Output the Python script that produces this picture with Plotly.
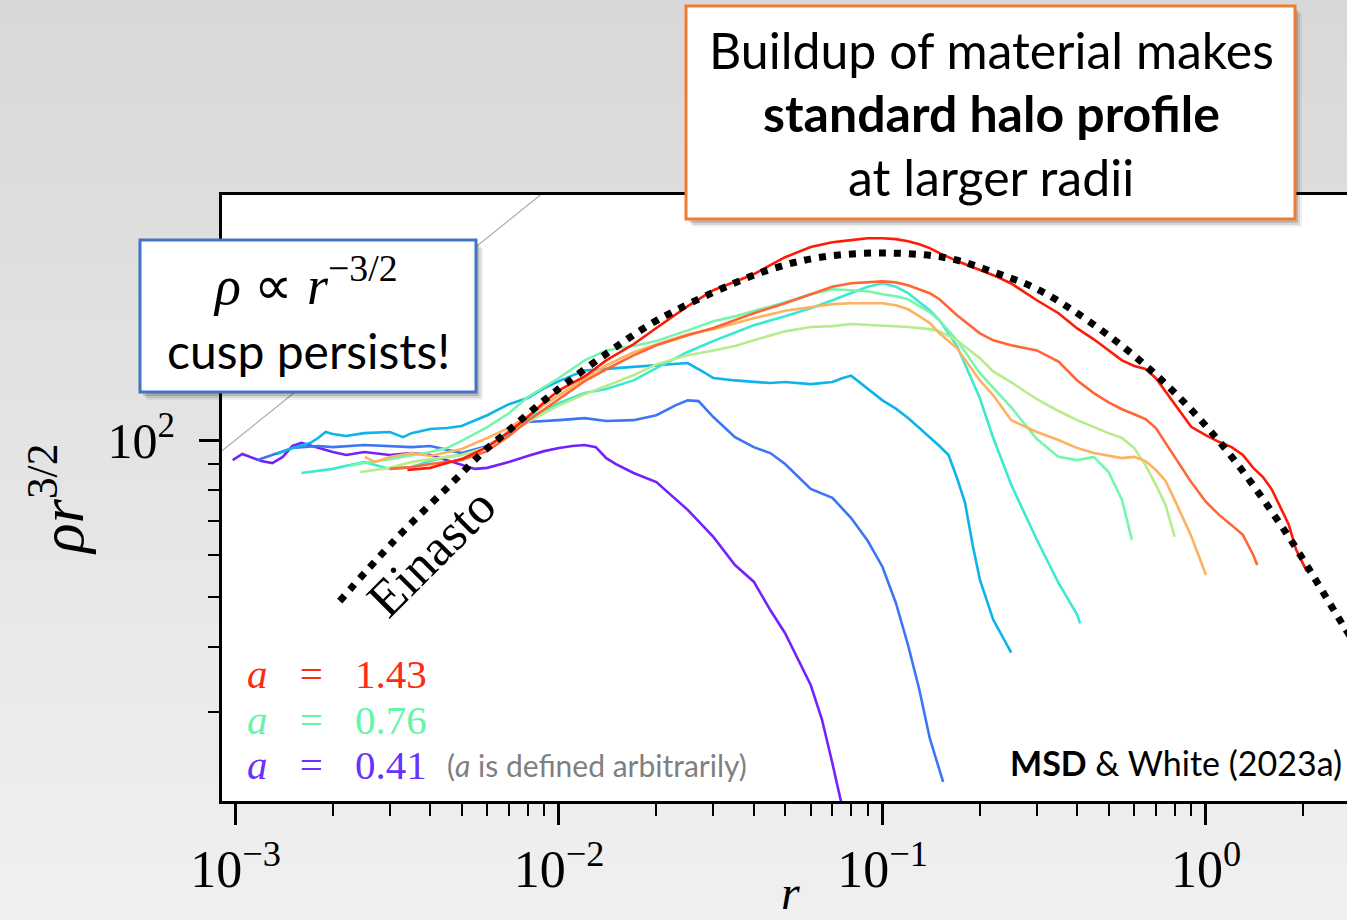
import plotly.graph_objects as go

# ---------------- data ----------------
# r and rho*r^(3/2) for nine snapshots a = 0.41 ... 1.43
r_a041 = [0.00098,0.00105,0.0012,0.0013,0.0014,0.0015,0.0016,0.0018,0.002,0.0022,0.0025,0.003,0.0035,0.004,0.0045,0.005,0.0055,0.006,0.007,0.008,0.009,0.01,0.011,0.012,0.013,0.014,0.015,0.017,0.02,0.025,0.03,0.035,0.04,0.045,0.05,0.06,0.065,0.07,0.074,0.08]
v_a041 = [91.5,94.0,91.1,90.3,92.8,97.4,98.7,96.5,94.8,93.6,94.8,93.6,94.4,93.6,91.5,89.9,88.0,88.4,90.7,93.2,95.2,96.5,97.4,97.8,96.9,92.3,89.9,86.4,83.0,73.4,65.1,57.5,53.4,47.1,42.5,33.8,29.0,23.9,20.5,17.0]

r_a048 = [0.00117,0.0013,0.0015,0.0018,0.002,0.0025,0.003,0.0035,0.004,0.0045,0.005,0.006,0.007,0.008,0.01,0.012,0.014,0.017,0.02,0.023,0.025,0.027,0.03,0.035,0.04,0.045,0.05,0.06,0.07,0.08,0.09,0.1,0.11,0.12,0.13,0.14,0.15,0.154]
v_a048 = [91.5,93.6,96.5,97.4,96.9,97.8,97.4,96.9,97.4,95.7,94.4,97.4,103.1,108.3,109.2,110.2,108.8,109.2,111.6,116.7,119.2,118.8,110.7,101.3,96.9,94.4,89.9,80.5,77.4,70.8,64.0,57.0,48.6,40.3,33.1,26.7,23.2,22.0]

r_a056 = [0.00134,0.0015,0.0017,0.0018,0.0019,0.002,0.0022,0.0025,0.003,0.0033,0.0035,0.004,0.0045,0.005,0.006,0.007,0.008,0.009,0.01,0.012,0.015,0.02,0.025,0.028,0.03,0.035,0.04,0.045,0.05,0.06,0.07,0.075,0.08,0.09,0.1,0.11,0.12,0.13,0.14,0.15,0.16,0.17,0.18,0.19,0.2,0.22,0.25]
v_a056 = [94.0,96.5,98.7,100.9,103.6,102.7,101.8,103.1,103.6,101.3,103.1,105.0,105.5,106.4,111.6,117.2,120.4,125.8,129.8,136.1,137.5,139.2,140.6,135.1,131.6,130.2,129.3,128.7,129.3,128.1,129.3,131.5,133.0,125.8,119.2,114.9,110.2,105.5,101.3,97.4,93.6,84.5,75.7,62.8,53.9,45.1,39.0]

r_a065 = [0.0016,0.0018,0.002,0.0022,0.0025,0.003,0.0035,0.004,0.0045,0.005,0.006,0.007,0.008,0.01,0.012,0.014,0.017,0.02,0.025,0.03,0.035,0.04,0.05,0.06,0.07,0.08,0.09,0.1,0.11,0.12,0.14,0.15,0.17,0.2,0.22,0.25,0.3,0.35,0.4,0.408]
v_a065 = [86.4,87.2,88.0,89.2,90.7,88.0,88.7,91.1,92.8,93.6,96.9,104.1,110.2,117.8,123.1,125.3,130.2,137.5,147.7,155.0,161.0,166.2,173.0,179.3,185.7,191.6,197.1,200.2,197.1,191.6,177.6,169.9,151.6,120.3,100.9,82.0,64.3,53.1,46.1,44.4]

r_a076 = [0.00226,0.0025,0.003,0.0035,0.004,0.0045,0.005,0.006,0.007,0.008,0.01,0.012,0.014,0.017,0.02,0.025,0.03,0.035,0.04,0.05,0.06,0.07,0.08,0.09,0.1,0.11,0.12,0.14,0.15,0.17,0.2,0.22,0.25,0.3,0.35,0.4,0.45,0.5,0.55,0.59]
v_a076 = [89.2,90.3,91.9,93.6,94.8,96.5,99.6,105.9,112.6,120.9,131.6,142.3,148.7,151.6,155.0,162.5,169.2,172.9,176.9,184.1,190.7,194.9,194.1,193.2,190.7,189.0,186.5,176.1,169.9,155.5,134.4,125.8,115.6,100.4,92.8,91.5,92.8,86.8,76.7,64.3]

r_a089 = [0.00243,0.003,0.0035,0.004,0.005,0.006,0.007,0.008,0.01,0.012,0.014,0.017,0.02,0.025,0.03,0.035,0.04,0.05,0.06,0.07,0.08,0.1,0.12,0.14,0.15,0.17,0.2,0.22,0.25,0.3,0.35,0.4,0.45,0.5,0.55,0.6,0.65,0.7,0.75,0.8]
v_a089 = [86.8,88.4,90.7,91.9,93.6,96.9,103.6,108.3,116.6,122.4,126.9,133.2,139.8,145.5,148.7,151.6,155.5,161.8,164.9,165.6,167.2,166.2,164.9,163.4,161.8,155.5,143.6,135.5,129.1,119.8,113.7,109.2,105.9,103.1,100.9,96.5,89.5,82.0,75.0,65.1]

r_a104 = [0.00251,0.0027,0.003,0.0035,0.004,0.005,0.006,0.007,0.008,0.01,0.012,0.014,0.017,0.02,0.025,0.03,0.035,0.04,0.05,0.06,0.07,0.08,0.1,0.11,0.12,0.13,0.14,0.15,0.17,0.2,0.22,0.25,0.3,0.35,0.4,0.45,0.5,0.55,0.6,0.65,0.7,0.75,0.8,0.9,1.0]
v_a104 = [92.8,90.7,92.8,94.4,93.2,96.1,100.9,105.5,111.1,121.9,131.5,139.2,147.5,152.7,159.7,163.4,167.9,171.4,177.2,180.1,182.5,183.3,183.3,181.7,178.4,173.0,167.9,160.4,150.1,130.2,121.9,109.2,103.6,100.0,96.5,94.4,93.2,92.3,92.8,91.1,87.6,83.4,76.7,65.4,55.0]

r_a122 = [0.003,0.0035,0.004,0.005,0.006,0.007,0.008,0.01,0.012,0.014,0.017,0.02,0.025,0.03,0.035,0.04,0.05,0.06,0.07,0.08,0.1,0.11,0.12,0.14,0.15,0.17,0.2,0.22,0.25,0.3,0.35,0.4,0.45,0.5,0.55,0.6,0.65,0.7,0.8,0.9,1.0,1.1,1.2,1.3,1.4,1.44]
v_a122 = [88.0,88.7,89.9,91.5,95.2,101.8,108.8,119.8,129.8,136.8,145.5,152.1,159.0,164.2,169.9,175.3,183.3,190.7,197.1,200.2,201.9,201.0,198.5,191.6,186.5,173.8,160.4,155.5,152.1,148.7,141.5,130.2,123.1,118.1,114.6,112.1,109.7,105.4,92.8,83.0,76.0,71.7,68.6,65.7,60.1,57.5]

r_a143 = [0.0034,0.004,0.0045,0.005,0.006,0.007,0.008,0.009,0.01,0.012,0.014,0.017,0.02,0.025,0.03,0.035,0.04,0.045,0.05,0.06,0.07,0.08,0.09,0.1,0.11,0.12,0.13,0.14,0.15,0.17,0.2,0.22,0.25,0.3,0.35,0.4,0.45,0.5,0.55,0.6,0.65,0.7,0.8,0.9,1.0,1.1,1.2,1.3,1.4,1.5,1.6,1.7,1.8,1.9,2.05]
v_a143 = [87.6,88.4,90.3,91.9,96.9,103.6,110.7,118.2,124.6,132.5,142.3,152.8,164.2,180.9,194.1,202.0,208.4,216.9,224.7,235.0,240.0,242.3,244.4,244.4,243.4,241.2,238.0,233.9,228.7,221.0,212.1,207.5,200.0,185.7,175.3,163.9,156.2,148.7,142.3,138.8,137.0,131.5,117.3,106.0,102.1,99.1,96.9,93.6,88.4,84.9,80.2,74.3,68.9,61.5,55.9]

# Einasto profile (dotted)
r_einasto = [0.0021,0.00307,0.00494,0.00582,0.0069,0.00814,0.0097,0.0141,0.0202,0.0338,0.0465,0.065,0.102,0.158,0.22,0.30,0.438,0.686,1.09,1.73,2.65,3.0]
v_einasto = [49.0,63.7,85.6,94.8,103.6,113.2,123.7,147.0,170.2,198.7,214.2,224.9,228.9,223.9,210.4,195.2,168.6,135.1,100.0,67.7,44.1,39.1]

# grey reference slope
r_ref = [0.0009, 0.01]
v_ref = [94.9, 316.2]

series = [
    ("a = 0.41", r_a041, v_a041, "#7322ff"),
    ("a = 0.48", r_a048, v_a048, "#3c76f7"),
    ("a = 0.56", r_a056, v_a056, "#0cb4ea"),
    ("a = 0.65", r_a065, v_a065, "#3ee8d2"),
    ("a = 0.76", r_a076, v_a076, "#74f7ad"),
    ("a = 0.89", r_a089, v_a089, "#b6ec8c"),
    ("a = 1.04", r_a104, v_a104, "#fcb261"),
    ("a = 1.22", r_a122, v_a122, "#ff6633"),
    ("a = 1.43", r_a143, v_a143, "#ff1a08"),
]

x_ticks = [0.001, 0.01, 0.1, 1]
x_ticktext = ["10<sup>\u22123</sup>", "10<sup>\u22122</sup>", "10<sup>\u22121</sup>", "10<sup>0</sup>"]
y_ticks = [100]
y_ticktext = ["10<sup>2</sup>"]

# ---------------- layout geometry (pixels) ----------------
W, H = 1347, 920
L, R, T, B = 222, 1347, 195, 801


def fx(x):
    return (x - L) / (R - L)


def fy(y):
    return (B - y) / (B - T)


fig = go.Figure()

fig.add_trace(go.Scatter(x=r_ref, y=v_ref, mode="lines",
                         line=dict(color="#ababab", width=1.2), hoverinfo="skip"))
for name, rr, vv, col in series:
    fig.add_trace(go.Scatter(x=rr, y=vv, mode="lines", name=name,
                             line=dict(color=col, width=2.6)))
fig.add_trace(go.Scatter(x=r_einasto, y=v_einasto, mode="lines", name="Einasto",
                         line=dict(color="black", width=7, dash="7px,8px", shape="spline")))

shapes = []
# slide background gradient
nb = 46
for i in range(nb):
    t = i / (nb - 1)
    g = int(round(216 + (240 - 216) * t))
    shapes.append(dict(type="rect", xref="paper", yref="paper", layer="below",
                       x0=fx(0), x1=fx(W), y0=fy((i + 1) * H / nb + 1), y1=fy(i * H / nb),
                       line=dict(width=0), fillcolor=f"rgb({g},{g},{g})"))
shapes.append(dict(type="rect", xref="paper", yref="paper", layer="below",
                   x0=0, x1=1, y0=0, y1=1, line=dict(width=0), fillcolor="white"))


def callout(x0, y0, x1, y1, color):
    out = []
    for dx, dy, a in [(7, 8, 0.06), (5, 6, 0.10), (3, 4, 0.14)]:
        out.append(dict(type="rect", xref="paper", yref="paper", layer="above",
                        x0=fx(x0 + dx), x1=fx(x1 + dx), y0=fy(y1 + dy), y1=fy(y0 + dy),
                        line=dict(width=0), fillcolor=f"rgba(0,0,0,{a})"))
    out.append(dict(type="rect", xref="paper", yref="paper", layer="above",
                    x0=fx(x0), x1=fx(x1), y0=fy(y1), y1=fy(y0),
                    line=dict(color=color, width=3), fillcolor="white"))
    return out


shapes += callout(140, 240, 476, 392, "#4472C4")
shapes += callout(686, 6, 1295, 219, "#ED7D31")

SERIF = "Liberation Serif"
SANS = "Lato"
SP = "\u2002\u2009\u200a"


def ann(x, y, text, size, color="black", family=SANS, xanchor="center", angle=0):
    return dict(x=fx(x), y=fy(y), xref="paper", yref="paper", text=text, showarrow=False,
                xanchor=xanchor, yanchor="middle", textangle=angle,
                font=dict(family=family, size=size, color=color))


annotations = [
    ann(305, 281, "<i>\u03c1</i> \u221d <i>r</i><sup>\u22123/2</sup>", 54, family=SERIF),
    ann(308, 350, "cusp persists!", 48),
    ann(991, 50, "Buildup of material makes", 50),
    ann(991, 113, "<b>standard halo profile</b>", 50),
    ann(991, 177, "at larger radii", 50),
    ann(245, 674, "<i>a</i>" + SP + "=" + SP + "1.43", 41, color="#ff2a12", family=SERIF, xanchor="left"),
    ann(245, 719.5, "<i>a</i>" + SP + "=" + SP + "0.76", 41, color="#66f5a8", family=SERIF, xanchor="left"),
    ann(245, 765, "<i>a</i>" + SP + "=" + SP + "0.41", 41, color="#6a30ff", family=SERIF, xanchor="left"),
    ann(445, 765, "(<i>a</i> is defined arbitrarily)", 30, color="#7f7f7f", xanchor="left"),
    ann(1344, 762, "<b>MSD</b> &amp; White (2023a)", 34, xanchor="right"),
    ann(431, 552, "Einasto", 52, family=SERIF, angle=-45),
    ann(790, 892, "<i>r</i>", 48, family=SERIF),
    ann(57, 500, "<i>\u03c1r</i><sup>3/2</sup>", 62, family=SERIF, angle=-90),
]

fig.update_layout(
    width=W, height=H, autosize=False,
    margin=dict(l=L, r=W - R, t=T, b=H - B, pad=0),
    paper_bgcolor="#e4e4e4", plot_bgcolor="white",
    showlegend=False,
    shapes=shapes, annotations=annotations,
    xaxis=dict(type="log", range=[-3.0417, 0.4359], showgrid=False, zeroline=False,
               showline=True, linecolor="black", linewidth=3, mirror=True,
               ticks="outside", ticklen=21, tickwidth=3, tickcolor="black",
               tickvals=x_ticks, ticktext=x_ticktext,
               tickfont=dict(family=SERIF, size=52, color="black"),
               minor=dict(ticks="outside", ticklen=12, tickwidth=2, tickcolor="black",
                          tickvals=[d * 10.0 ** e for e in range(-4, 1) for d in range(2, 10)],
                          showgrid=False)),
    yaxis=dict(type="log", range=[1.3058, 2.4712], showgrid=False, zeroline=False,
               showline=True, linecolor="black", linewidth=3, mirror=False,
               ticks="outside", ticklen=20, tickwidth=3, tickcolor="black",
               tickvals=y_ticks, ticktext=y_ticktext, ticklabelstandoff=14,
               tickfont=dict(family=SERIF, size=50, color="black"),
               minor=dict(ticks="outside", ticklen=11, tickwidth=2, tickcolor="black",
                          tickvals=[d * 10.0 ** e for e in range(1, 3) for d in range(2, 10)],
                          showgrid=False)),
)

fig.write_html("out.html", config={"displayModeBar": False},
               post_script="document.body.style.margin='0px';document.body.style.overflow='hidden';")
